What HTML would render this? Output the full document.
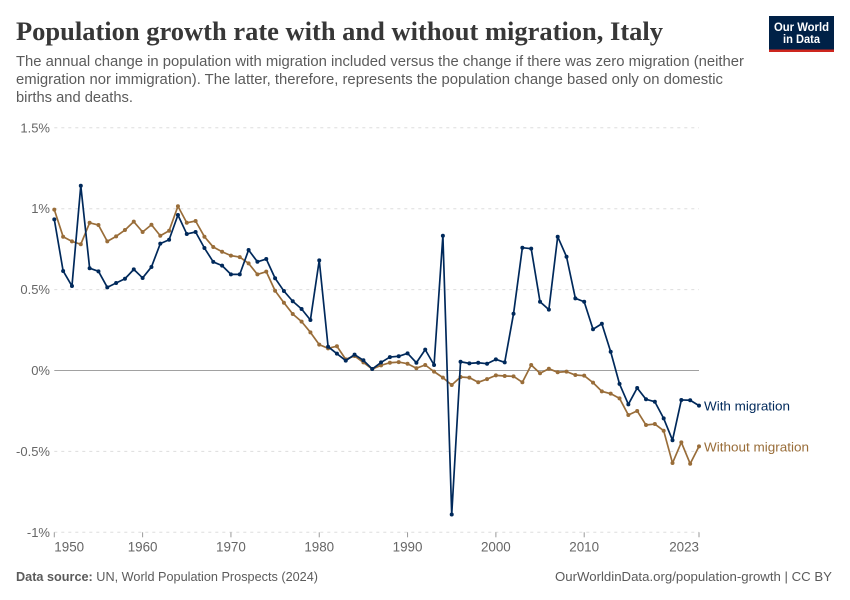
<!DOCTYPE html>
<html lang="en">
<head>
<meta charset="utf-8">
<title>Population growth rate with and without migration, Italy</title>
<style>
html,body{margin:0;padding:0;background:#fff;}
body{width:850px;height:600px;overflow:hidden;}
svg{display:block;}
text{font-family:"Liberation Sans",sans-serif;}
</style>
</head>
<body>
<svg id="chart" xmlns="http://www.w3.org/2000/svg" width="850" height="600" viewBox="0 0 850 600">
  <rect x="0" y="0" width="850" height="600" fill="#ffffff"/>
  <text x="16" y="40" textLength="647" lengthAdjust="spacingAndGlyphs" style="font-family:'Liberation Serif',serif;font-weight:700;font-size:26.5px;fill:#373737;">Population growth rate with and without migration, Italy</text>
  <text x="16" y="66" textLength="728" lengthAdjust="spacingAndGlyphs" font-size="14.5" fill="#5b5b5b">The annual change in population with migration included versus the change if there was zero migration (neither</text>
  <text x="16" y="84" textLength="707" lengthAdjust="spacingAndGlyphs" font-size="14.5" fill="#5b5b5b">emigration nor immigration). The latter, therefore, represents the population change based only on domestic</text>
  <text x="16" y="102" textLength="117" lengthAdjust="spacingAndGlyphs" font-size="14.5" fill="#5b5b5b">births and deaths.</text>

  <g>
    <rect x="769" y="16" width="65" height="36" fill="#002147"/>
    <rect x="769" y="49.5" width="65" height="2.5" fill="#ce261e"/>
    <text x="801.5" y="31" text-anchor="middle" textLength="55" lengthAdjust="spacingAndGlyphs" font-size="12" font-weight="700" fill="#ffffff">Our World</text>
    <text x="801.5" y="43" text-anchor="middle" textLength="37" lengthAdjust="spacingAndGlyphs" font-size="12" font-weight="700" fill="#ffffff">in Data</text>
  </g>

  <g id="grid"></g>
  <g id="xaxis"></g>
  <g id="series"></g>

  <text x="16" y="581" textLength="302" lengthAdjust="spacingAndGlyphs" font-size="12.5" fill="#5b5b5b"><tspan font-weight="700">Data source:</tspan> <tspan>UN, World Population Prospects (2024)</tspan></text>
  <text x="555" y="581" textLength="277" lengthAdjust="spacingAndGlyphs" font-size="12.5" fill="#5b5b5b">OurWorldinData.org/population-growth | CC BY</text>
</svg>
<script>
const years = [1950,1951,1952,1953,1954,1955,1956,1957,1958,1959,1960,1961,1962,1963,1964,1965,1966,1967,1968,1969,1970,1971,1972,1973,1974,1975,1976,1977,1978,1979,1980,1981,1982,1983,1984,1985,1986,1987,1988,1989,1990,1991,1992,1993,1994,1995,1996,1997,1998,1999,2000,2001,2002,2003,2004,2005,2006,2007,2008,2009,2010,2011,2012,2013,2014,2015,2016,2017,2018,2019,2020,2021,2022,2023];
const withMigration = [0.934,0.615,0.522,1.142,0.632,0.613,0.514,0.541,0.567,0.625,0.572,0.64,0.784,0.808,0.961,0.844,0.856,0.757,0.671,0.648,0.594,0.594,0.745,0.672,0.689,0.57,0.491,0.428,0.38,0.312,0.681,0.147,0.104,0.061,0.098,0.063,0.009,0.05,0.083,0.088,0.106,0.048,0.129,0.034,0.833,-0.89,0.054,0.044,0.048,0.042,0.069,0.05,0.351,0.759,0.753,0.425,0.376,0.827,0.703,0.446,0.425,0.255,0.289,0.116,-0.083,-0.209,-0.108,-0.178,-0.193,-0.296,-0.431,-0.182,-0.184,-0.217];
const withoutMigration = [0.994,0.827,0.798,0.78,0.913,0.899,0.798,0.829,0.868,0.92,0.856,0.901,0.833,0.864,1.015,0.913,0.924,0.827,0.763,0.734,0.71,0.701,0.662,0.594,0.611,0.493,0.419,0.349,0.302,0.236,0.16,0.137,0.15,0.069,0.09,0.05,0.009,0.032,0.048,0.052,0.042,0.014,0.034,-0.007,-0.044,-0.09,-0.04,-0.044,-0.073,-0.053,-0.03,-0.034,-0.036,-0.073,0.034,-0.017,0.011,-0.011,-0.007,-0.028,-0.032,-0.075,-0.129,-0.143,-0.172,-0.275,-0.25,-0.337,-0.331,-0.372,-0.572,-0.444,-0.576,-0.469];
const yTickValues = [-1,-0.5,0,0.5,1,1.5];
const yTickLabels = ['-1%','-0.5%','0%','0.5%','1%','1.5%'];
const xTickValues = [1950,1960,1970,1980,1990,2000,2010,2023];
const seriesNames = ['Without migration','With migration'];

const NS = 'http://www.w3.org/2000/svg';
const X0 = 54.3, X1 = 699, Y0 = 370.5, PX_PER_UNIT = 161.8;
const BLUE = '#00295b', BROWN = '#996d39';
function xScale(year){ return X0 + (year - years[0]) * (X1 - X0) / (years[years.length-1] - years[0]); }
function yScale(v){ return Y0 - v * PX_PER_UNIT; }
function mk(tag, attrs, parent){
  const el = document.createElementNS(NS, tag);
  for (const k in attrs) el.setAttribute(k, attrs[k]);
  parent.appendChild(el);
  return el;
}

const grid = document.getElementById('grid');
yTickValues.forEach((v, i) => {
  const y = yScale(v);
  const line = mk('line', {x1:X0, x2:X1, y1:y, y2:y, stroke: v === 0 ? '#a1a1a1' : '#dddddd', 'stroke-width':1, 'stroke-dasharray': v === 0 ? 'none' : '3,4'}, grid);
  
  
  const t = mk('text', {x:50, y:y+4.5, 'text-anchor':'end', 'font-size':13, fill:'#666666'}, grid);
  
  
  t.textContent = yTickLabels[i];
});

const xaxis = document.getElementById('xaxis');
const axisY = yScale(-1);
xTickValues.forEach((yr, i) => {
  const x = xScale(yr);
  const tick = mk('line', {x1:x, x2:x, y1:axisY, y2:axisY+5, stroke:'#999999', 'stroke-width':1}, xaxis);
  
  
  const anchor = i === 0 ? 'start' : (i === xTickValues.length-1 ? 'end' : 'middle');
  const t = mk('text', {x:x, y:axisY+19, 'text-anchor':anchor, 'font-size':13.4, fill:'#666666'}, xaxis);
  
  
  t.textContent = String(yr);
});

const seriesGroup = document.getElementById('series');
function drawSeries(values, color, name){
  const g = mk('g', {}, seriesGroup);
  
  
  const d = values.map((v, i) => (i ? 'L' : 'M') + xScale(years[i]).toFixed(2) + ' ' + yScale(v).toFixed(2)).join('');
  const path = mk('path', {d:d, fill:'none', stroke:color, 'stroke-width':1.7, 'stroke-linejoin':'round'}, g);
  
  
  values.forEach((v, i) => {
    const c = mk('circle', {cx:xScale(years[i]), cy:yScale(v), r:2, fill:color}, g);
    
    
  });
  const last = values[values.length-1];
  const lab = mk('text', {x:704, y:yScale(last)+5, 'font-size':13.2, textLength: name.length > 15 ? 105 : 86, lengthAdjust:'spacingAndGlyphs', fill:color}, g);
  
  
  lab.textContent = name;
}
drawSeries(withoutMigration, BROWN, seriesNames[0]);
drawSeries(withMigration, BLUE, seriesNames[1]);
</script>
</body>
</html>
